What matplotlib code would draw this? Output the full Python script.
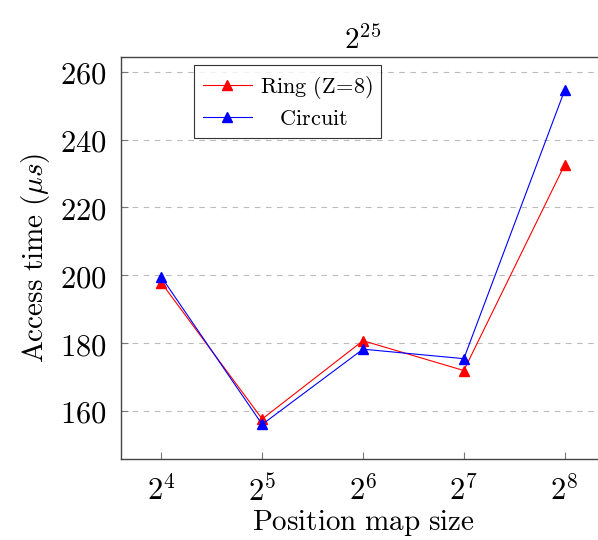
from matplotlib import pyplot as plt
from matplotlib.ticker import FuncFormatter
import numpy as np

plt.rcParams['mathtext.fontset'] = 'cm'
plt.rcParams['font.family'] = 'serif'
plt.rcParams['font.serif'] = ['DejaVu Serif']

# data
exponents = [4, 5, 6, 7, 8]
ring = [197.8, 157.6, 180.7, 171.9, 232.6]
circuit = [199.5, 156.0, 178.2, 175.4, 254.6]

fig = plt.figure(figsize=(5.98, 5.40), dpi=100)
ax = fig.add_axes([121/598, 1-459/540, 484/598, 402/540])

ax.plot(exponents, ring, color='red', marker='^', markersize=7, lw=0.8,
        label=r'$\mathrm{Ring\ (Z\!=\!8)}$')
ax.plot(exponents, circuit, color='blue', marker='^', markersize=7, lw=0.8,
        label=r'$\mathrm{\quad Circuit}$')

ax.set_xlim(3.6, 8.4)
ax.set_ylim(145.8, 264.4)
ax.set_xticks(exponents)
ax.set_xticklabels([r'$2^{%d}$' % e for e in exponents])
ax.set_yticks([160, 180, 200, 220, 240, 260])
ax.yaxis.set_major_formatter(FuncFormatter(lambda v, p: r'$%d$' % v))
ax.tick_params(direction='in', length=5, color='#777777', labelsize=22, pad=10)
ax.tick_params(axis='x', pad=12)
ax.yaxis.grid(True, linestyle=(0, (5, 5)), color='#bbbbbb', lw=0.8)
ax.set_axisbelow(True)
for s in ax.spines.values():
    s.set_color('#444444')
    s.set_linewidth(1.0)

ax.set_xlabel(r'$\mathrm{Position\ map\ size}$', fontsize=21, labelpad=0)
ax.set_ylabel(r'$\mathrm{Access\ time\ (}\mu s\mathrm{)}$', fontsize=21, labelpad=6)
ax.set_title(r'$2^{25}$', fontsize=21, pad=6)

leg = ax.legend(loc='upper left', bbox_to_anchor=(0.151, 0.98), fontsize=16,
                frameon=True, fancybox=False, edgecolor='black',
                handlelength=2.2, handletextpad=0.35, borderpad=0.4,
                labelspacing=0.3, borderaxespad=0)
leg.get_frame().set_linewidth(0.8)

fig.savefig('out.png', dpi=100)
